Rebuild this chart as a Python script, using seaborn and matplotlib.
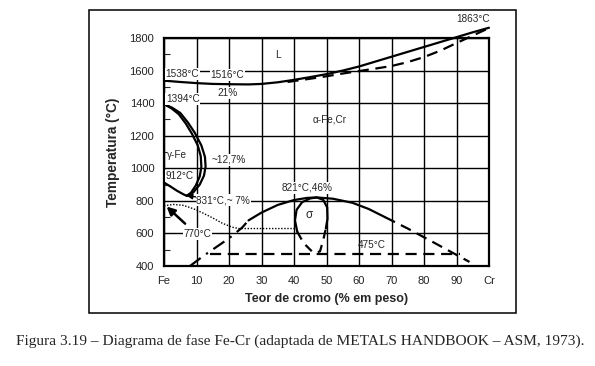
"""Fe-Cr phase diagram (redrawn)."""
import matplotlib
matplotlib.use("Agg")
import matplotlib.pyplot as plt
from matplotlib.patches import Rectangle
from matplotlib.ticker import MultipleLocator
import seaborn as sns
import pandas as pd

# ---- data (wt% Cr, temperature in C) ----
liq_x = [0, 5, 10, 15, 21, 26, 30, 35, 40, 45, 50, 55, 60, 65, 70, 75, 80, 85, 90, 95, 100]
liq_t = [1538, 1530, 1523, 1518, 1516, 1515, 1518, 1528, 1543, 1560, 1578, 1600, 1625, 1655, 1685, 1715, 1745, 1775, 1805, 1835, 1863]

sol_x = [38, 45, 50, 55, 60, 65, 70, 75, 80, 85, 90, 95, 100]
sol_t = [1530, 1550, 1565, 1582, 1597, 1612, 1628, 1652, 1683, 1722, 1769, 1815, 1861]

gam_out_x = [0, 2.5, 5, 7.4, 9.5, 11.5, 12.6, 12.8, 12.3, 11, 9, 7]
gam_out_t = [1394, 1372, 1340, 1280, 1217, 1140, 1070, 1010, 955, 900, 852, 831]

gam_in_x = [0, 2.3, 4.5, 6.7, 8.6, 10.4, 11.3, 11.5, 11.0, 9.8, 8.3, 7]
gam_in_t = [1394, 1368, 1333, 1275, 1212, 1140, 1075, 1010, 950, 895, 850, 831]

gam_low_x = [0, 2, 4, 6, 7]
gam_low_t = [912, 888, 862, 840, 831]

mag_x = [0, 3, 6, 9, 12, 15, 18, 21, 23, 40]
mag_t = [770, 778, 772, 752, 725, 695, 662, 638, 630, 630]

dome_x = [26, 30, 35, 40, 44, 47, 52, 58, 63, 68]
dome_t = [680, 728, 775, 805, 818, 821, 813, 788, 750, 700]

dome_l_x = [8, 12, 16, 20, 24, 26]
dome_l_t = [400, 460, 515, 570, 635, 680]

dome_r_x = [68, 75, 82, 88, 94]
dome_r_t = [700, 630, 555, 490, 425]

sig_x = [41, 40.3, 40.8, 42.5, 45, 47, 49, 50.2, 50.3, 49.8]
sig_t = [610, 680, 745, 792, 815, 821, 806, 760, 690, 630]

sig_low_x = [41, 43, 45.5, 46.5, 48, 49, 49.8]
sig_low_t = [610, 540, 490, 480, 490, 560, 630]

h475_x = [14, 91]
h475_t = [475, 475]

x_ticks = [0, 10, 20, 30, 40, 50, 60, 70, 80, 90, 100]
x_labels = ["Fe", "10", "20", "30", "40", "50", "60", "70", "80", "90", "Cr"]
y_ticks = [400, 600, 800, 1000, 1200, 1400, 1600, 1800]

sns.set_style("white")
plt.rcParams["font.family"] = ["Liberation Sans", "DejaVu Sans"]

fig = plt.figure(figsize=(5.95, 3.66), dpi=100)
ax = fig.add_axes([164 / 595, 1 - 266 / 366, 325 / 595, 228 / 366])

# outer frame around the whole chart
fig.patches.append(Rectangle((89 / 595, 1 - 313 / 366), 427 / 595, 303 / 366,
                             transform=fig.transFigure, fill=False,
                             edgecolor="black", linewidth=1.1))


def curve(xs, ts, ls="-", lw=1.6, **kw):
    df = pd.DataFrame({"x": xs, "t": ts})
    sns.lineplot(data=df, x="x", y="t", sort=False, estimator=None, ax=ax,
                 color="black", linestyle=ls, linewidth=lw, clip_on=False, **kw)


curve(liq_x, liq_t)
curve(sol_x, sol_t, ls=(0, (5, 3)))
curve(gam_out_x, gam_out_t)
curve(gam_in_x, gam_in_t)
curve(gam_low_x, gam_low_t)
curve(mag_x, mag_t, ls=(0, (1, 1.2)), lw=1.0)
curve(dome_x, dome_t)
curve(dome_l_x, dome_l_t, ls=(0, (6, 3, 1, 3)))
curve(dome_r_x, dome_r_t, ls=(0, (5, 3)))
curve(sig_x, sig_t)
curve(sig_low_x, sig_low_t, ls=(0, (4, 3)))
curve(h475_x, h475_t, ls=(0, (5, 3)))

ax.set_xlim(0, 100)
ax.set_ylim(400, 1800)
ax.set_xticks(x_ticks)
ax.set_xticklabels(x_labels)
ax.set_yticks(y_ticks)
ax.yaxis.set_minor_locator(MultipleLocator(100))
ax.grid(True, which="major", color="black", linewidth=1.0)
ax.tick_params(axis="both", which="major", length=0, pad=7, labelsize=8, labelcolor="#222222")
ax.tick_params(axis="y", which="minor", left=True, direction="in", length=4, width=0.8)
for s in ax.spines.values():
    s.set_linewidth(1.6)
    s.set_color("black")

ax.set_xlabel("Teor de cromo (% em peso)", fontsize=9, fontweight="bold", labelpad=5)
ax.set_ylabel("Temperatura (°C)", fontsize=9.8, fontweight="bold", labelpad=7)

fs = 7.2
ax.text(95, 1917, "1863°C", fontsize=fs, ha="center", va="center")
ax.text(35, 1696, "L", fontsize=fs, ha="center", va="center")
ax.text(0.4, 1579, "1538°C", fontsize=fs, ha="left", va="center",
        bbox=dict(facecolor="white", edgecolor="none", pad=0.5))
ax.text(19.5, 1573, "1516°C", fontsize=fs, ha="center", va="center",
        bbox=dict(facecolor="white", edgecolor="none", pad=0.5))
ax.text(19.7, 1462, "21%", fontsize=fs, ha="center", va="center",
        bbox=dict(facecolor="white", edgecolor="none", pad=0.5))
ax.text(0.6, 1425, "1394°C", fontsize=fs, ha="left", va="center",
        bbox=dict(facecolor="white", edgecolor="none", pad=0.5))
ax.text(51, 1302, "α-Fe,Cr", fontsize=fs, ha="center", va="center")
ax.text(1.0, 1081, "γ-Fe", fontsize=fs, ha="left", va="center",
        bbox=dict(facecolor="white", edgecolor="none", pad=0.5))
ax.text(14.5, 1051, "~12,7%", fontsize=fs, ha="left", va="center",
        bbox=dict(facecolor="white", edgecolor="none", pad=0.5))
ax.text(0.6, 953, "912°C", fontsize=fs, ha="left", va="center",
        bbox=dict(facecolor="white", edgecolor="none", pad=0.5))
ax.annotate("831°C,~ 7%", xy=(7, 831), xytext=(10, 805), fontsize=fs,
            ha="left", va="center",
            bbox=dict(facecolor="white", edgecolor="none", pad=0.5),
            arrowprops=dict(arrowstyle="-|>", color="black", lw=1.0,
                            shrinkA=0, shrinkB=0, mutation_scale=8))
ax.annotate("", xy=(0.8, 765), xytext=(6.5, 660),
            arrowprops=dict(arrowstyle="-|>", color="black", lw=1.8,
                            shrinkA=0, shrinkB=0, mutation_scale=12))
ax.text(10.2, 596, "770°C", fontsize=fs, ha="center", va="center",
        bbox=dict(facecolor="white", edgecolor="none", pad=0.5))
ax.text(44, 879, "821°C,46%", fontsize=fs, ha="center", va="center",
        bbox=dict(facecolor="white", edgecolor="none", pad=0.5))
ax.text(44.6, 713, "σ", fontsize=8.5, ha="center", va="center")
ax.text(64, 529, "475°C", fontsize=fs, ha="center", va="center")

fig.text(0.505, 1 - 341 / 366,
         "Figura 3.19 – Diagrama de fase Fe-Cr (adaptada de METALS HANDBOOK – ASM, 1973).",
         fontsize=11.1, family="Liberation Serif", ha="center", va="center")

fig.savefig("out.png", dpi=100)
